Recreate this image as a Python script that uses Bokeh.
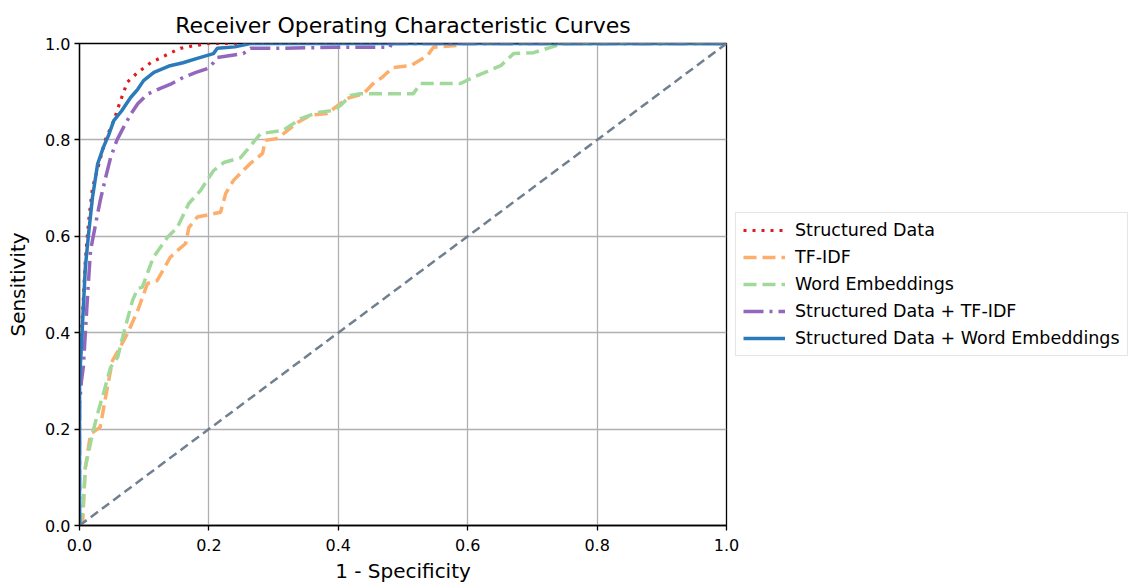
from bokeh.plotting import figure
from bokeh.models import Range1d, FixedTicker, PrintfTickFormatter, Legend, LegendItem
from bokeh.embed import file_html
from bokeh.resources import INLINE

# ---- data ----
sd_x = [0, 0, 0.004, 0.009, 0.014, 0.02, 0.03, 0.04, 0.053, 0.063, 0.074, 0.09, 0.11, 0.125, 0.14, 0.156, 0.175, 0.198, 1.0]
sd_y = [0, 0.30, 0.42, 0.55, 0.63, 0.70, 0.75, 0.80, 0.84, 0.88, 0.92, 0.94, 0.96, 0.97, 0.98, 0.99, 0.995, 1.0, 1.0]

tfidf_x = [0, 0.005, 0.009, 0.017, 0.032, 0.043, 0.051, 0.06, 0.074, 0.09, 0.105, 0.12, 0.14, 0.151, 0.164, 0.169,
           0.182, 0.218, 0.223, 0.226, 0.238, 0.264, 0.283, 0.287, 0.306, 0.337, 0.357, 0.383, 0.399, 0.414, 0.439,
           0.454, 0.468, 0.484, 0.512, 0.538, 0.547, 0.584, 0.593, 1.0]
tfidf_y = [0, 0.01, 0.12, 0.19, 0.204, 0.286, 0.342, 0.363, 0.398, 0.446, 0.502, 0.508, 0.556, 0.57, 0.585, 0.618,
           0.64, 0.65, 0.674, 0.689, 0.716, 0.751, 0.772, 0.799, 0.803, 0.836, 0.851, 0.855, 0.871, 0.886, 0.896,
           0.917, 0.93, 0.95, 0.954, 0.975, 0.992, 0.996, 1.0, 1.0]

we_x = [0, 0.005, 0.009, 0.02, 0.028, 0.037, 0.048, 0.059, 0.068, 0.082, 0.09, 0.097, 0.114, 0.136, 0.151, 0.169,
        0.187, 0.207, 0.223, 0.249, 0.28, 0.315, 0.342, 0.368, 0.393, 0.403, 0.419, 0.434, 0.516, 0.527, 0.589,
        0.609, 0.651, 0.671, 0.702, 0.728, 0.748, 1.0]
we_y = [0, 0.031, 0.12, 0.19, 0.232, 0.274, 0.328, 0.349, 0.398, 0.467, 0.492, 0.494, 0.556, 0.598, 0.618, 0.668,
        0.695, 0.736, 0.753, 0.763, 0.813, 0.82, 0.844, 0.857, 0.861, 0.871, 0.892, 0.896, 0.896, 0.917, 0.917,
        0.93, 0.954, 0.979, 0.981, 0.992, 1.0, 1.0]

sdtf_x = [0, 0, 0.003, 0.006, 0.012, 0.017, 0.027, 0.032, 0.04, 0.048, 0.058, 0.068, 0.08, 0.09, 0.105, 0.125,
          0.14, 0.161, 0.18, 0.198, 0.207, 0.213, 0.253, 0.264, 0.306, 0.393, 0.48, 0.482, 1.0]
sdtf_y = [0, 0.25, 0.30, 0.33, 0.467, 0.57, 0.64, 0.674, 0.72, 0.763, 0.80, 0.826, 0.855, 0.875, 0.895, 0.907,
          0.915, 0.93, 0.94, 0.948, 0.96, 0.971, 0.979, 0.99, 0.99, 0.992, 0.992, 1.0, 1.0]

sdwe_x = [0, 0, 0.004, 0.009, 0.014, 0.02, 0.028, 0.037, 0.045, 0.053, 0.065, 0.079, 0.09, 0.099, 0.115, 0.14,
          0.16, 0.182, 0.207, 0.213, 0.24, 0.264, 1.0]
sdwe_y = [0, 0.30, 0.40, 0.535, 0.605, 0.68, 0.75, 0.785, 0.81, 0.84, 0.86, 0.888, 0.905, 0.923, 0.94, 0.954,
          0.96, 0.969, 0.979, 0.99, 0.993, 1.0, 1.0]

chance_x = [0.0, 1.0]
chance_y = [0.0, 1.0]

labels = ["Structured Data", "TF-IDF", "Word Embeddings", "Structured Data + TF-IDF",
          "Structured Data + Word Embeddings"]
ticks = [0.0, 0.2, 0.4, 0.6, 0.8, 1.0]

FONT = "DejaVu Sans"

p = figure(frame_width=647, frame_height=482, x_range=Range1d(0, 1), y_range=Range1d(0, 1),
           output_backend="svg", toolbar_location=None,
           min_border_left=79, min_border_right=403, min_border_top=43, min_border_bottom=58,
           title="Receiver Operating Characteristic Curves")

p.title.text_font = FONT
p.title.text_font_size = "22px"
p.title.text_font_style = "normal"
p.title.text_color = "black"
p.title.align = "center"
p.title.standoff = 11

for ax in (p.xaxis[0], p.yaxis[0]):
    ax.ticker = FixedTicker(ticks=ticks)
    ax.formatter = PrintfTickFormatter(format="%.1f")
    ax.major_label_text_font = FONT
    ax.major_label_text_font_size = "16px"
    ax.major_label_text_color = "black"
    ax.axis_label_text_font = FONT
    ax.axis_label_text_font_size = "20px"
    ax.axis_label_text_font_style = "normal"
    ax.axis_label_text_color = "black"
    ax.major_tick_out = 5
    ax.major_tick_in = 0
    ax.minor_tick_out = 0
    ax.minor_tick_in = 0
    ax.axis_line_color = "black"
    ax.axis_line_width = 1.3
    ax.major_tick_line_width = 1.3
    ax.major_tick_line_color = "black"

p.xaxis.axis_label = "1 - Specificity"
p.yaxis.axis_label = "Sensitivity"
p.xaxis.major_label_standoff = 8
p.xaxis.axis_label_standoff = 5
p.yaxis.major_label_standoff = 4
p.yaxis.axis_label_standoff = 12

p.grid.ticker = FixedTicker(ticks=ticks)
p.grid.grid_line_color = "#b0b0b0"
p.grid.grid_line_width = 1.3
p.outline_line_color = "black"
p.outline_line_width = 1.3
p.background_fill_color = "white"

r1 = p.line(sd_x, sd_y, line_color="#e41a1c", line_width=3.2, line_dash="3 6")
r2 = p.line(tfidf_x, tfidf_y, line_color="#fdae6b", line_width=3.5, line_dash="13 6")
r3 = p.line(we_x, we_y, line_color="#a1d99b", line_width=3.5, line_dash="13 6")
r4 = p.line(sdtf_x, sdtf_y, line_color="#9467bd", line_width=3.5, line_dash="20 6 3 6")
r5 = p.line(sdwe_x, sdwe_y, line_color="#2b7bba", line_width=3.5)
p.line(chance_x, chance_y, line_color="#708090", line_width=2.5, line_dash="9 5")

legend = Legend(items=[LegendItem(label=l, renderers=[r]) for l, r in zip(labels, [r1, r2, r3, r4, r5])],
                location=(9, 169))
legend.label_text_font = FONT
legend.label_text_font_size = "17.5px"
legend.label_text_color = "black"
legend.glyph_width = 42
legend.glyph_height = 20
legend.label_height = 20
legend.label_standoff = 10
legend.spacing = 7
legend.padding = 7
legend.margin = 0
legend.border_line_color = "#cccccc"
legend.border_line_width = 1.3
legend.background_fill_alpha = 1.0
p.add_layout(legend, "right")

open("out.html", "w").write(file_html(p, INLINE))
